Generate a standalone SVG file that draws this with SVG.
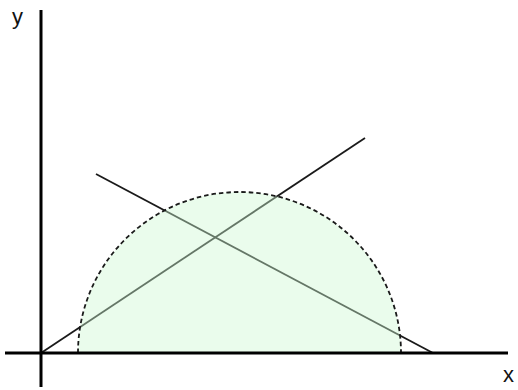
<svg xmlns="http://www.w3.org/2000/svg" width="518" height="390" viewBox="0 0 518 390">
<style>
.axis{stroke:#000;stroke-width:3;fill:none}
.ln{stroke:#1a1a1a;stroke-width:1.8;fill:none}
.fill{fill:#cdf8d2;fill-opacity:0.42;stroke:none}
.dash{fill:none;stroke:#1a1a1a;stroke-width:1.8;stroke-dasharray:4.5 3}
.lbl{font-family:"Liberation Sans",Arial,sans-serif;font-size:22px;fill:#111}
</style>
<rect width="518" height="390" fill="#fff"/>
<g id="connectors">
<line id="line1" class="ln" x1="41" y1="353" x2="365" y2="138"/>
<line id="line2" class="ln" x1="96" y1="174" x2="433" y2="353"/>
</g>
<g id="semicircle">
<path class="fill" d="M78 353 A161.5 161 0 0 1 401 353 Z"/>
<path class="dash" d="M78 353 A161.5 161 0 0 1 401 353"/>
</g>
<g id="axes">
<line id="y-axis" class="axis" x1="41" y1="10" x2="41" y2="387"/>
<line id="x-axis" class="axis" x1="5" y1="353" x2="508" y2="353"/>
</g>
<g id="labels">
<text class="lbl" x="12" y="24">y</text>
<text class="lbl" x="503" y="382">x</text>
</g>
</svg>
